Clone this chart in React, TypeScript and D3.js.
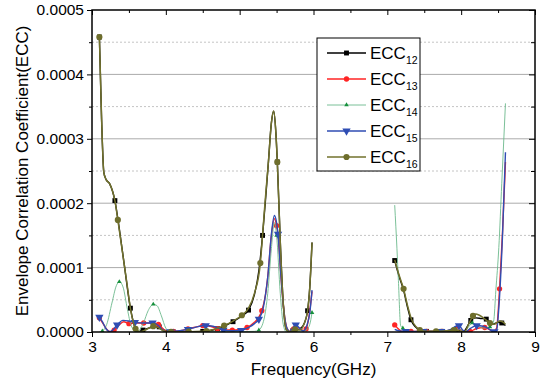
import React, { useRef, useEffect } from 'react';
import * as d3 from 'd3';

type Pt = [number, number];

// ECC values are read in units of 1e-5
const UNIT = 1e-5;

const ecc12: Pt[] = [
  [3.1, 45.8], [3.13, 33], [3.16, 24.8], [3.19, 23.7], [3.24, 23.0], [3.31, 20.4], [3.37, 16],
  [3.44, 10.2], [3.52, 3.7], [3.58, 0.8], [3.63, 0.05], [3.69, 0.3], [3.8, 0.7], [3.91, 0.8],
  [3.98, 0.3], [4.1, 0.02], [4.3, 0.05], [4.5, 0.1], [4.7, 0.5], [4.91, 1.6], [5.02, 2.4],
  [5.12, 3.4], [5.2, 5.8], [5.26, 9.5], [5.31, 15.0], [5.35, 20.5], [5.39, 26.5], [5.43, 32.5],
  [5.46, 34.3], [5.49, 31.0], [5.51, 26.4], [5.55, 14.0], [5.59, 4.5], [5.63, 0.4], [5.68, 0.05],
  [5.72, 0.2], [5.8, 0.4], [5.86, 1.0], [5.92, 3.3], [5.95, 7.0], [5.98, 13.9],
  [7.1, 11.1], [7.16, 8.6], [7.22, 6.5], [7.27, 4.0], [7.32, 1.9], [7.38, 0.8], [7.44, 0.3],
  [7.53, 0.1], [7.74, 0.1], [7.95, 0.2], [8.03, 0.05], [8.08, 0.8], [8.13, 1.8], [8.2, 2.2],
  [8.27, 2.1], [8.34, 2.0], [8.42, 1.2], [8.5, 1.5], [8.55, 1.4], [8.6, 1.0],
];
const ecc12Marks = [3.1, 3.31, 3.52, 3.69, 3.91, 4.1, 4.3, 4.5, 4.7, 4.91, 5.12, 5.31, 5.51, 5.72, 5.92,
  7.1, 7.32, 7.53, 7.74, 7.95, 8.13, 8.34, 8.55];

const ecc13: Pt[] = [
  [3.1, 2.2], [3.15, 1.3], [3.2, 0.4], [3.25, 0.05], [3.3, 0.3], [3.36, 1.0], [3.43, 1.6], [3.5, 1.3],
  [3.6, 1.4], [3.7, 1.4], [3.8, 1.4], [3.9, 1.2], [3.96, 0.5], [4.02, 0.05], [4.1, 0.1], [4.2, 0.2],
  [4.3, 0.5], [4.42, 0.8], [4.5, 1.0], [4.6, 0.9], [4.7, 0.5], [4.8, 0.3], [4.9, 0.3], [5.0, 0.4],
  [5.1, 0.7], [5.2, 1.5], [5.26, 2.3], [5.3, 3.3], [5.35, 5.8], [5.38, 8.5], [5.43, 15], [5.47, 17.6],
  [5.5, 16.5], [5.52, 15], [5.56, 8.5], [5.6, 3.2], [5.64, 0.6], [5.68, 0.05], [5.73, 0.5], [5.77, 0.8],
  [5.82, 0.5], [5.87, 0.2], [5.9, 0.5], [5.94, 2.5], [5.98, 6.3],
  [7.1, 1.1], [7.14, 0.6], [7.2, 0.1], [7.32, 0.1], [7.53, 0.1], [7.74, 0.1], [7.85, 0.3], [7.95, 0.6],
  [8.0, 0.3], [8.05, 0.05], [8.12, 0.1], [8.2, 0.5], [8.32, 0.7], [8.38, 0.4], [8.44, 0.1], [8.48, 0.6],
  [8.52, 6.7], [8.56, 15.5], [8.6, 26.4],
];
const ecc13Marks = [3.1, 3.3, 3.5, 3.7, 3.9, 4.1, 4.3, 4.5, 4.7, 4.9, 5.1, 5.3, 5.5, 5.73, 5.9,
  7.1, 7.32, 7.53, 7.74, 7.95, 8.12, 8.32, 8.52];

const ecc14: Pt[] = [
  [3.1, 0.0], [3.14, 0.15], [3.2, 1.2], [3.27, 4.5], [3.33, 7.2], [3.37, 7.8], [3.42, 7.0], [3.48, 3.5],
  [3.53, 1.0], [3.6, 0.05], [3.65, 0.4], [3.7, 1.5], [3.76, 3.3], [3.83, 4.3], [3.88, 4.1], [3.94, 2.5],
  [4.0, 0.6], [4.06, 0.05], [4.3, 0.05], [4.54, 0.05], [4.78, 0.05], [5.02, 0.05], [5.2, 0.1], [5.26, 0.3],
  [5.33, 2.0], [5.38, 6], [5.43, 13], [5.47, 17], [5.5, 15], [5.55, 6], [5.59, 1.2], [5.63, 0.05],
  [5.74, 0.05], [5.9, 0.3], [5.95, 1.2], [5.98, 3],
  [7.1, 19.7], [7.13, 13], [7.15, 8], [7.18, 1.0], [7.21, 0.6], [7.3, 0.1], [7.45, 0.05], [7.68, 0.05],
  [7.85, 0.2], [7.92, 0.5], [7.98, 0.4], [8.04, 0.05], [8.1, 0.8], [8.15, 1.4], [8.22, 1.0], [8.3, 0.6],
  [8.39, 0.8], [8.44, 1.7], [8.47, 6.5], [8.51, 13.1], [8.55, 23.1], [8.6, 35.5],
];
const ecc14Marks = [3.14, 3.37, 3.6, 3.83, 4.06, 4.3, 4.54, 4.78, 5.02, 5.26, 5.5, 5.74, 5.98,
  7.21, 7.45, 7.68, 7.92, 8.15, 8.39];

const ecc15: Pt[] = [
  [3.1, 2.3], [3.14, 1.6], [3.19, 0.5], [3.24, 0.05], [3.29, 0.4], [3.34, 1.1], [3.42, 1.8], [3.5, 1.7],
  [3.58, 1.5], [3.7, 1.4], [3.82, 1.4], [3.9, 1.0], [3.95, 0.4], [4.0, 0.05], [4.06, 0.05], [4.18, 0.2],
  [4.3, 0.4], [4.42, 0.8], [4.54, 1.0], [4.64, 0.9], [4.78, 0.3], [4.9, 0.2], [5.02, 0.25], [5.12, 0.7],
  [5.2, 1.3], [5.26, 2.0], [5.32, 3.8], [5.35, 5.8], [5.38, 8.5], [5.43, 15.2], [5.47, 18.1], [5.5, 17.0],
  [5.52, 15.2], [5.56, 8.5], [5.6, 3.2], [5.64, 0.6], [5.68, 0.05], [5.72, 0.6], [5.76, 1.1], [5.81, 0.6],
  [5.86, 0.15], [5.91, 1.0], [5.95, 3.0], [5.98, 6.5],
  [7.1, 0.4], [7.15, 0.2], [7.25, 0.1], [7.49, 0.1], [7.73, 0.1], [7.86, 0.4], [7.93, 0.9], [7.97, 1.0],
  [8.02, 0.3], [8.06, 0.05], [8.13, 0.6], [8.21, 1.0], [8.3, 0.9], [8.36, 0.6], [8.42, 0.1], [8.45, 0.05],
  [8.48, 0.3], [8.52, 5.5], [8.56, 15], [8.6, 27.9],
];
const ecc15Marks = [3.1, 3.34, 3.58, 3.82, 4.06, 4.3, 4.54, 4.78, 5.02, 5.26, 5.52, 5.76,
  7.25, 7.49, 7.73, 7.97, 8.21, 8.45];

const ecc16: Pt[] = [
  [3.1, 45.8], [3.13, 33], [3.16, 24.8], [3.19, 23.7], [3.24, 23.0], [3.28, 21.8], [3.31, 20.4], [3.35, 17.4],
  [3.42, 11.8], [3.47, 7.8], [3.52, 3.7], [3.59, 0.5], [3.65, 0.05], [3.72, 0.3], [3.83, 0.9], [3.91, 0.6],
  [3.97, 0.15], [4.07, 0.02], [4.31, 0.05], [4.55, 0.15], [4.65, 0.4], [4.79, 1.0], [4.91, 1.7], [5.03, 2.6],
  [5.12, 3.7], [5.2, 6.0], [5.28, 10.7], [5.31, 15.0], [5.34, 19.6], [5.39, 26.5], [5.43, 32.5], [5.46, 34.3],
  [5.49, 31.0], [5.51, 26.4], [5.55, 14.0], [5.59, 4.5], [5.63, 0.4], [5.68, 0.05], [5.75, 0.4], [5.82, 0.3],
  [5.87, 1.2], [5.92, 3.3], [5.95, 7.0], [5.98, 13.9],
  [7.1, 11.2], [7.16, 8.8], [7.22, 6.7], [7.28, 3.8], [7.33, 1.9], [7.39, 0.8], [7.44, 0.3], [7.53, 0.1],
  [7.66, 0.1], [7.8, 0.2], [7.9, 0.3], [8.0, 0.1], [8.05, 0.05], [8.1, 1.2], [8.16, 2.5], [8.2, 2.8],
  [8.3, 2.2], [8.39, 1.4], [8.45, 1.2], [8.52, 1.7], [8.56, 1.6], [8.6, 1.2],
];
const ecc16Marks = [3.1, 3.35, 3.59, 3.83, 4.07, 4.31, 4.55, 4.79, 5.03, 5.28, 5.51, 5.75,
  7.22, 7.44, 7.66, 7.9, 8.16, 8.39];

const seriesNames = ['12', '13', '14', '15', '16'];
const xTicks = [3, 4, 5, 6, 7, 8, 9];
const yTicks = [0, 0.0001, 0.0002, 0.0003, 0.0004, 0.0005];

const App = () => {
  const ref = useRef<SVGSVGElement>(null);

  useEffect(() => {
    const width = 547;
    const height = 380;
    const margin = { top: 10, right: 12, bottom: 48, left: 92 };
    const font = 'Liberation Sans, Arial, sans-serif';

    const x = d3.scaleLinear().domain([3, 9]).range([margin.left, width - margin.right]);
    const y = d3.scaleLinear().domain([0, 0.0005]).range([height - margin.bottom, margin.top]);

    const svg = d3.select(ref.current).attr('width', width).attr('height', height);
    svg.selectAll('*').remove();

    svg.append('rect').attr('width', width).attr('height', height).attr('fill', 'white');

    // grid: solid at major ticks, dashed halfway between
    const inner = yTicks.slice(1, -1);
    svg.append('g').selectAll('line').data(inner).enter().append('line')
      .attr('x1', x(3)).attr('x2', x(9))
      .attr('y1', d => y(d)).attr('y2', d => y(d))
      .attr('stroke', '#ababab').attr('stroke-width', 1);
    const half = yTicks.slice(0, -1).map(d => d + 0.00005);
    svg.append('g').selectAll('line').data(half).enter().append('line')
      .attr('x1', x(3)).attr('x2', x(9))
      .attr('y1', d => y(d)).attr('y2', d => y(d))
      .attr('stroke', '#c4c4c4').attr('stroke-width', 1).attr('stroke-dasharray', '2,2');

    svg.append('clipPath').attr('id', 'plot-clip').append('rect')
      .attr('x', x(3)).attr('y', y(0.0005)).attr('width', x(9) - x(3)).attr('height', y(0) - y(0.0005));

    const series = [
      { pts: ecc12, marks: ecc12Marks, color: '#000000', mark: '#000000', lw: 1.4, sym: d3.symbolSquare, size: 24, rot: 0 },
      { pts: ecc13, marks: ecc13Marks, color: '#ff2424', mark: '#ff2424', lw: 1.4, sym: d3.symbolCircle, size: 22, rot: 0 },
      { pts: ecc14, marks: ecc14Marks, color: '#6cb98c', mark: '#16903c', lw: 0.9, sym: d3.symbolTriangle, size: 9, rot: 0 },
      { pts: ecc15, marks: ecc15Marks, color: '#2f4db3', mark: '#2f4db3', lw: 1.4, sym: d3.symbolTriangle, size: 30, rot: 180 },
      { pts: ecc16, marks: ecc16Marks, color: '#72722d', mark: '#6e6e2c', lw: 1.5, sym: d3.symbolCircle, size: 30, rot: 0 },
    ];

    const line = d3.line<Pt>()
      .x(d => x(d[0]))
      .y(d => y(d[1] * UNIT))
      .curve(d3.curveMonotoneX);

    const plot = svg.append('g').attr('clip-path', 'url(#plot-clip)');

    series.forEach(s => {
      // split at the gap between the two measured bands
      const segs: Pt[][] = [];
      let cur: Pt[] = [];
      s.pts.forEach((p, i) => {
        if (i > 0 && p[0] - s.pts[i - 1][0] > 0.5) { segs.push(cur); cur = []; }
        cur.push(p);
      });
      segs.push(cur);

      plot.append('g').selectAll('path').data(segs).enter().append('path')
        .attr('d', d => line(d))
        .attr('fill', 'none')
        .attr('stroke', s.color)
        .attr('stroke-width', s.lw);

      const marked = s.pts.filter(p => s.marks.some(m => Math.abs(m - p[0]) < 1e-6));
      plot.append('g').selectAll('path').data(marked).enter().append('path')
        .attr('d', d3.symbol().type(s.sym).size(s.size)())
        .attr('transform', d => `translate(${x(d[0])},${y(d[1] * UNIT)}) rotate(${s.rot})`)
        .attr('fill', s.mark);
    });

    // axes
    const halfX = d3.range(3.5, 9, 1);
    const halfY = half;
    const axisStyle = (g: any) => {
      g.select('.domain').remove();
      g.selectAll('line').attr('stroke', '#000').attr('stroke-width', 1);
      g.selectAll('text').style('font-family', font).style('font-size', '15.5px').attr('fill', '#000');
    };

    svg.append('g').attr('transform', `translate(0,${y(0)})`)
      .call(d3.axisBottom(x).tickValues(xTicks).tickSize(5).tickPadding(4).tickFormat(d3.format('d')))
      .call(axisStyle);
    svg.append('g').attr('transform', `translate(0,${y(0)})`)
      .call(d3.axisBottom(x).tickValues(halfX).tickSize(3).tickFormat(() => ''))
      .call(axisStyle);
    svg.append('g').attr('transform', `translate(${x(3)},0)`)
      .call(d3.axisLeft(y).tickValues(yTicks).tickSize(5).tickPadding(3).tickFormat(d3.format('.4f')))
      .call(axisStyle);
    svg.append('g').attr('transform', `translate(${x(3)},0)`)
      .call(d3.axisLeft(y).tickValues(halfY).tickSize(3).tickFormat(() => ''))
      .call(axisStyle);
    svg.append('g').attr('transform', `translate(${x(9)},0)`)
      .call(d3.axisRight(y).tickValues(yTicks).tickSize(-6).tickFormat(() => ''))
      .call(axisStyle);
    svg.append('g').attr('transform', `translate(${x(9)},0)`)
      .call(d3.axisRight(y).tickValues(halfY).tickSize(-4).tickFormat(() => ''))
      .call(axisStyle);
    svg.append('g').attr('transform', `translate(0,${y(0.0005)})`)
      .call(d3.axisTop(x).tickValues(xTicks).tickSize(-5).tickFormat(() => ''))
      .call(axisStyle);
    svg.append('g').attr('transform', `translate(0,${y(0.0005)})`)
      .call(d3.axisTop(x).tickValues(halfX).tickSize(-3).tickFormat(() => ''))
      .call(axisStyle);

    svg.append('rect')
      .attr('x', x(3)).attr('y', y(0.0005))
      .attr('width', x(9) - x(3)).attr('height', y(0) - y(0.0005))
      .attr('fill', 'none').attr('stroke', '#000').attr('stroke-width', 1.5);

    // axis titles
    svg.append('text')
      .attr('x', (x(3) + x(9)) / 2).attr('y', 375)
      .attr('text-anchor', 'middle')
      .style('font-family', font).style('font-size', '17px')
      .text('Frequency(GHz)');
    svg.append('text')
      .attr('transform', `translate(28,${(y(0) + y(0.0005)) / 2}) rotate(-90)`)
      .attr('text-anchor', 'middle')
      .style('font-family', font).style('font-size', '17px')
      .text('Envelope Correlation Coefficient(ECC)');

    // legend
    const lg = svg.append('g').attr('transform', 'translate(317,38)');
    lg.append('rect').attr('width', 103).attr('height', 133)
      .attr('fill', 'white').attr('stroke', '#000').attr('stroke-width', 1);
    const item = lg.selectAll('.legend').data(series).enter().append('g')
      .attr('class', 'legend')
      .attr('transform', (d, i) => `translate(0,${15 + i * 26})`);
    item.append('line').attr('x1', 10).attr('x2', 49).attr('y1', 0).attr('y2', 0)
      .attr('stroke', d => d.color).attr('stroke-width', d => d.lw);
    item.append('path')
      .attr('d', d => d3.symbol().type(d.sym).size(d.size)())
      .attr('transform', d => `translate(29.5,0) rotate(${d.rot})`)
      .attr('fill', d => d.mark);
    const txt = item.append('text').attr('x', 53).attr('y', 6)
      .style('font-family', font).style('font-size', '17px');
    txt.append('tspan').text('ECC');
    txt.append('tspan').attr('dy', 5).style('font-size', '10.5px').text((d, i) => seriesNames[i]);
  }, []);

  return (
    <svg ref={ref} style={{ position: 'absolute', left: 0, top: 0 }}></svg>
  );
};

export default App;
